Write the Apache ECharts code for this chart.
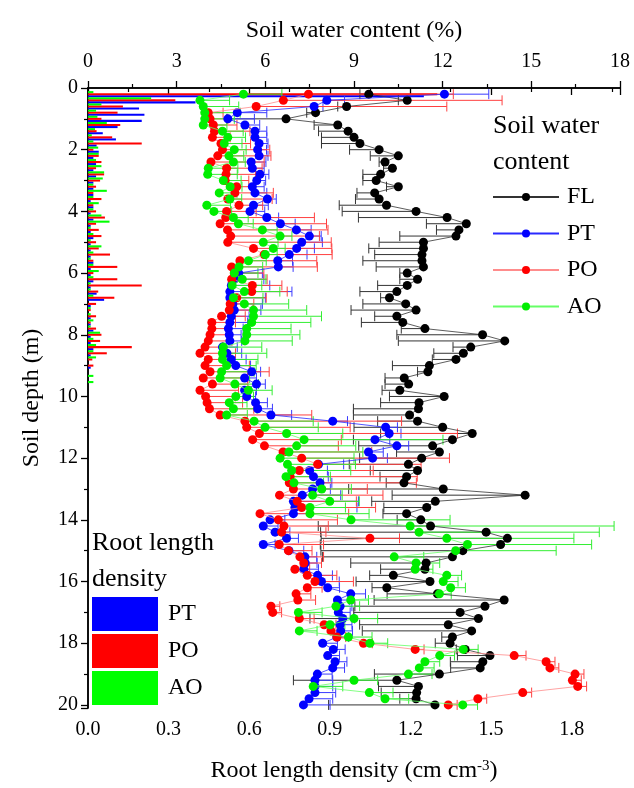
<!DOCTYPE html>
<html>
<head>
<meta charset="utf-8">
<script src="https://cdn.jsdelivr.net/npm/echarts@6/dist/echarts.min.js"></script>
<style>
  html, body { margin: 0; padding: 0; background: #fff; }
  #chart { width: 634px; height: 788px; }
</style>
</head>
<body>
<div id="chart"></div>
<script>
// 土壤深度 (m)
var swcDepth = [0.2,0.4,0.6,0.8,1.0,1.2,1.4,1.6,1.8,2.0,2.2,2.4,2.6,2.8,3.0,3.2,3.4,3.6,3.8,4.0,
  4.2,4.4,4.6,4.8,5.0,5.2,5.4,5.6,5.8,6.0,6.2,6.4,6.6,6.8,7.0,7.2,7.4,7.6,7.8,8.0,
  8.2,8.4,8.6,8.8,9.0,9.2,9.4,9.6,9.8,10.0,10.2,10.4,10.6,10.8,11.0,11.2,11.4,11.6,11.8,12.0,
  12.2,12.4,12.6,12.8,13.0,13.2,13.4,13.6,13.8,14.0,14.2,14.4,14.6,14.8,15.0,15.2,15.4,15.6,15.8,16.0,
  16.2,16.4,16.6,16.8,17.0,17.2,17.4,17.6,17.8,18.0,18.2,18.4,18.6,18.8,19.0,19.2,19.4,19.6,19.8,20.0]

// 土壤含水量 (%)
var swcFL = [9.5,10.8,8.75,7.7,6.7,8.45,8.8,9.0,9.2,9.85,
  10.5,10.05,10.3,9.9,9.75,10.5,9.7,9.85,10.1,11.1,
  12.15,12.8,12.55,12.45,11.35,11.35,11.3,11.3,11.35,10.8,
  11.15,10.8,10.45,10.2,10.75,11.1,10.45,10.65,11.4,13.35,
  14.1,12.95,12.7,12.45,11.55,11.5,10.7,10.85,10.55,12.05,
  11.2,11.18,10.88,11.15,12.0,13.0,12.33,11.66,11.89,11.29,
  10.84,11.15,10.78,10.69,12.02,14.79,11.75,11.46,10.78,11.26,
  11.59,13.47,14.19,13.96,12.68,12.33,11.44,11.4,10.33,11.57,
  10.11,11.82,14.08,13.43,12.59,13.21,12.19,12.98,12.33,12.25,
  12.76,13.6,13.36,13.27,11.89,10.45,11.18,11.12,11.1,11.74]
var errFL = [0.3,0.3,0.3,0.3,2.0,0.8,1.0,1.1,1.3,1.0,
  0.95,0.2,0.3,0.6,0.45,0.4,0.6,0.8,1.6,2.5,
  3.0,1.35,0.76,1.9,1.5,1.85,1.6,2.0,1.6,0.25,
  0.6,1.0,1.25,0.3,1.45,2.2,0.75,1.4,0.8,2.9,
  3.6,0.6,1.0,0.8,1.25,0.35,0.65,0.8,0.6,1.85,
  1.3,2.2,1.9,1.35,3.0,3.1,3.35,2.5,1.45,2.1,
  2.0,1.6,0.9,0.6,3.2,4.5,2.15,1.45,0.8,0.8,
  3.8,5.6,6.3,6.1,4.8,4.4,2.55,1.5,0.8,2.5,
  0.5,1.7,4.4,4.4,3.6,5.7,3.0,3.7,0.36,0.5,
  0.3,1.1,1.1,1.0,2.2,3.5,1.35,1.2,0.55,3.6]

var swcPT = [12.06,8.08,7.65,5.05,4.73,5.31,5.65,5.65,5.79,5.74,
  5.79,5.52,5.56,5.82,5.71,5.56,5.65,6.07,5.6,5.48,
  6.05,6.51,7.05,7.49,7.23,7.06,6.81,6.42,6.44,5.1,
  4.95,4.85,4.8,4.8,4.9,4.95,4.85,4.8,4.75,4.78,
  4.8,4.55,4.7,4.85,5.0,5.54,5.3,5.7,5.3,5.37,
  5.67,5.74,6.19,8.28,10.07,10.19,9.71,10.45,9.49,9.63,
  7.8,7.5,7.63,7.85,7.6,7.25,6.95,7.0,6.95,6.16,
  5.93,6.33,6.72,5.93,6.8,7.34,7.35,7.3,7.77,7.9,
  8.11,8.89,8.44,8.53,8.47,8.62,8.53,8.55,8.42,7.94,
  8.3,8.11,8.36,8.28,7.76,7.68,7.68,7.68,7.48,7.29]
var errPT = [1.5,0.6,0.3,1.0,0.9,0.5,0.4,0.4,0.3,0.3,
  0.3,0.5,0.4,0.3,0.3,0.4,0.4,0.3,0.5,0.5,
  0.4,0.5,0.5,0.4,0.7,0.6,0.6,0.5,0.5,0.8,
  1.0,1.3,2.1,1.2,1.0,0.9,0.6,0.6,0.5,0.4,
  0.4,0.5,0.5,0.5,0.5,0.3,0.4,0.3,0.4,0.3,
  0.4,0.5,0.7,0.5,0.4,0.4,0.5,0.4,0.5,0.5,
  0.85,0.6,0.5,0.4,0.6,1.3,2.2,2.1,0.6,0.5,
  0.5,0.5,0.4,0.4,0.5,0.4,0.4,0.5,0.5,0.6,
  0.4,0.5,0.4,0.4,0.4,0.4,0.4,0.4,0.4,0.5,
  0.4,0.4,0.4,0.4,0.5,0.6,0.6,0.7,0.8,0.9]

var swcPO = [7.46,6.61,5.69,4.07,4.13,4.24,4.28,4.21,4.5,4.55,
  4.39,4.16,4.69,4.67,4.64,5.03,4.97,4.73,5.11,4.69,
  4.66,4.47,4.72,4.83,4.73,5.6,5.96,5.14,4.86,4.95,
  4.86,5.56,5.54,5.03,4.81,4.78,4.52,4.19,4.19,4.13,
  4.07,3.96,3.79,4.07,3.96,4.13,3.9,4.21,3.79,3.98,
  4.03,4.11,4.47,5.31,5.37,5.8,5.57,5.97,6.6,7.23,
  7.77,7.15,6.84,6.81,6.95,6.48,7.08,7.23,5.82,6.44,
  6.63,6.55,9.54,6.47,6.78,7.17,7.3,7.0,7.42,7.68,
  7.42,7.04,7.1,6.19,6.25,7.15,7.99,8.22,8.42,9.32,
  11.07,14.42,15.5,15.63,16.48,16.39,16.57,14.71,13.19,12.19]
var errPO = [4.9,7.4,6.45,0.5,0.6,0.8,1.2,0.6,1.0,1.6,
  1.8,1.8,1.2,1.0,0.8,0.6,1.3,1.5,0.8,1.0,
  3.0,3.6,3.4,3.0,3.5,2.65,2.3,2.6,2.9,1.0,
  1.2,1.0,1.2,1.0,0.8,0.8,0.8,0.8,0.6,0.7,
  0.8,0.6,1.2,0.8,1.5,2.0,1.5,1.2,1.3,1.0,
  1.2,1.5,3.1,5.3,3.5,6.7,3.0,2.5,3.0,5.0,
  3.5,2.5,4.3,4.3,2.5,3.5,2.0,2.5,3.0,2.0,
  1.5,1.5,1.0,1.5,0.8,0.8,0.6,0.5,1.0,1.3,
  0.5,0.5,0.6,0.3,0.3,0.5,0.4,0.3,0.3,0.3,
  0.3,0.4,0.3,0.3,0.3,0.3,0.3,0.3,0.3,0.3]

var swcAO = [5.26,3.79,3.9,3.95,3.95,3.9,4.55,4.73,4.61,4.95,
  4.77,4.92,4.07,4.05,4.58,4.81,4.44,4.8,4.02,4.26,
  4.92,5.09,5.9,6.5,5.93,6.27,6.0,5.43,5.11,4.95,
  5.22,4.88,5.29,4.92,5.29,5.6,5.6,5.54,5.37,5.37,
  5.31,4.58,4.55,4.55,4.69,4.52,4.47,4.97,5.43,5.0,
  4.78,4.92,4.69,5.62,5.99,6.72,7.31,7.06,6.8,6.5,
  6.75,6.89,6.7,6.97,7.91,7.6,8.18,7.51,7.51,8.9,
  10.9,11.2,12.14,12.84,12.44,10.36,11.1,11.07,12.14,12.02,
  12.27,11.89,8.89,8.39,7.12,9.0,8.19,7.15,8.81,9.54,
  12.7,11.9,11.4,11.21,10.84,9.0,7.62,9.52,10.05,12.68]
var errAO = [1.3,1.0,1.2,1.2,1.0,0.8,0.7,0.6,0.6,0.4,
  0.5,0.4,1.0,1.0,0.6,0.4,0.6,0.4,0.8,0.6,
  0.5,0.5,0.5,0.4,0.5,0.4,0.4,0.6,0.8,0.8,
  0.8,1.0,1.2,1.0,1.5,1.8,2.3,2.0,1.5,1.8,
  1.6,1.3,1.5,1.2,1.0,1.1,1.0,0.8,0.8,0.6,
  0.6,0.8,0.7,2.0,1.8,1.9,4.7,2.0,2.5,2.5,
  2.3,2.0,1.5,1.0,1.0,1.0,1.0,1.2,2.0,3.35,
  6.9,6.1,4.3,4.2,3.4,1.0,0.8,0.6,0.5,0.5,
  0.5,0.4,0.6,0.8,0.8,0.8,0.5,0.6,0.8,0.6,
  0.5,0.5,0.5,0.5,0.8,0.8,1.0,0.8,0.8,0.5]

// 根长密度 (cm cm-3)，每 0.2 m 一层（AO 在上、PO 居中、PT 在下）
var rldDepth = [0.2,0.4,0.6,0.8,1.0,1.2,1.4,1.6,1.8,2.0,
  2.2,2.4,2.6,2.8,3.0,3.2,3.4,3.6,3.8,4.0,
  4.2,4.4,4.6,4.8,5.0,5.2,5.4,5.6,5.8,6.0,
  6.2,6.4,6.6,6.8,7.0,7.2,7.4,7.6,7.8,8.0,
  8.2,8.4,8.6,8.8,9.0,9.2,9.4,9.6,9.8,10.0]
var rldPT = [1.25,0.40,0.19,0.21,0.20,0.11,0.055,0.104,0.032,0.04,
  0.02,0.03,0.02,0.03,0.02,0.02,0.02,0.01,0.02,0.01,
  0.02,0.01,0.01,0.02,0.01,0.01,0.01,0.02,0.01,0.01,
  0.02,0.01,0.032,0.06,0.01,0.00,0.01,0.01,0.02,0.01,
  0.01,0.02,0.01,0.00,0.01,0.00,0.00,0.00,0.00,0.00]
var rldPO = [1.30,0.325,0.13,0.11,0.05,0.12,0.032,0.09,0.20,0.02,
  0.04,0.05,0.03,0.06,0.045,0.03,0.02,0.05,0.02,0.03,
  0.063,0.03,0.04,0.05,0.03,0.04,0.082,0.02,0.109,0.02,
  0.109,0.20,0.038,0.098,0.03,0.01,0.03,0.01,0.03,0.05,
  0.045,0.163,0.07,0.016,0.02,0.00,0.00,0.00,0.00,0.00]
var rldAO = [0.02,0.235,0.05,0.03,0.035,0.07,0.026,0.014,0.02,0.038,
  0.04,0.03,0.05,0.06,0.055,0.02,0.07,0.02,0.04,0.02,
  0.05,0.08,0.01,0.02,0.01,0.05,0.02,0.01,0.02,0.04,
  0.02,0.01,0.01,0.02,0.00,0.01,0.01,0.02,0.01,0.045,
  0.02,0.03,0.02,0.03,0.00,0.00,0.02,0.02,0.00,0.00]

var FONT = 'Liberation Serif'

function pairs (xs, ys, errs) {
  return xs.map(function (v, i) { return errs ? [v, ys[i], errs[i]] : [v, ys[i]] })
}

// 水平误差棒：dir = -1 向左，1 向右
function errorBarItem (dir, color) {
  return function (params, api) {
    var v = api.value(0)
    var d = api.value(1)
    var e = api.value(2)
    var p0 = api.coord([v, d])
    var p1 = api.coord([v + dir * e, d])
    var h = 5
    return {
      type: 'group',
      children: [
        { type: 'line', shape: { x1: p0[0], y1: p0[1], x2: p1[0], y2: p1[1] }, style: { stroke: color, lineWidth: 1 } },
        { type: 'line', shape: { x1: p1[0], y1: p1[1] - h, x2: p1[0], y2: p1[1] + h }, style: { stroke: color, lineWidth: 1 } }
      ]
    }
  }
}

// 根长密度水平条：每层分三条，slot 0/1/2 = 上/中/下
function rldBarItem (slot, color) {
  return function (params, api) {
    var r = api.value(0)
    var d = api.value(1)
    var band = api.size([0, 0.2])[1]
    var h = band / 3
    var top = api.coord([0, d])[1] - band / 2 + slot * h
    var x0 = api.coord([0, d])[0]
    var x1 = api.coord([r, d])[0]
    return { type: 'rect', shape: { x: x0, y: top, width: x1 - x0, height: h }, style: { fill: color } }
  }
}

function lineSeries (name, data, color, lineColor, z) {
  return {
    name: name,
    type: 'line',
    xAxisIndex: 0,
    yAxisIndex: 0,
    data: data,
    symbol: 'circle',
    symbolSize: 9,
    itemStyle: { color: color },
    lineStyle: { color: lineColor, width: 0.8 },
    z: z,
    animation: false
  }
}

function errSeries (name, data, dir, color, z) {
  return {
    name: name,
    type: 'custom',
    xAxisIndex: 0,
    yAxisIndex: 0,
    data: data,
    renderItem: errorBarItem(dir, color),
    encode: { x: 0, y: 1 },
    z: z,
    silent: true,
    animation: false
  }
}

function rldSeries (name, data, slot, color) {
  return {
    name: name,
    type: 'custom',
    xAxisIndex: 1,
    yAxisIndex: 0,
    data: data,
    renderItem: rldBarItem(slot, color),
    encode: { x: 0, y: 1 },
    itemStyle: { color: color },
    z: 1,
    animation: false
  }
}

var axisLineStyle = { color: '#000', width: 1.5 }
var labelStyle = { fontFamily: FONT, fontSize: 20, color: '#000' }
var nameStyle = { fontFamily: FONT, fontSize: 24, color: '#000' }

var option = {
  animation: false,
  backgroundColor: '#fff',
  grid: { left: 88, top: 88, right: 14, bottom: 80 },
  xAxis: [
    {
      type: 'value',
      position: 'top',
      min: 0,
      max: 18,
      interval: 3,
      name: 'Soil water content (%)',
      nameLocation: 'middle',
      nameGap: 45,
      nameTextStyle: nameStyle,
      axisLine: { show: true, lineStyle: axisLineStyle },
      axisTick: { show: true, length: 7, lineStyle: { width: 1.3, color: '#000' } },
      minorTick: { show: true, splitNumber: 2, length: 4, lineStyle: { width: 1.2, color: '#000' } },
      axisLabel: Object.assign({ margin: 16 }, labelStyle),
      splitLine: { show: false }
    },
    {
      type: 'value',
      position: 'bottom',
      min: 0,
      max: 1.98,
      interval: 0.3,
      name: 'Root length density (cm cm{sup|-3})',
      nameLocation: 'middle',
      nameGap: 51,
      nameTextStyle: Object.assign({
        rich: { sup: { fontFamily: FONT, fontSize: 15, color: '#000', verticalAlign: 'top', lineHeight: 14 } }
      }, nameStyle),
      axisLine: { show: true, lineStyle: axisLineStyle },
      axisTick: { show: true, length: 7, lineStyle: { width: 1.3, color: '#000' } },
      minorTick: { show: true, splitNumber: 2, length: 4, lineStyle: { width: 1.2, color: '#000' } },
      axisLabel: Object.assign({ margin: 12, showMaxLabel: false, formatter: function (v) { return v.toFixed(1) } }, labelStyle),
      splitLine: { show: false }
    }
  ],
  yAxis: [
    {
      type: 'value',
      inverse: true,
      position: 'left',
      min: 0,
      max: 20.1,
      interval: 2,
      name: 'Soil depth (m)',
      nameLocation: 'middle',
      nameGap: 44,
      nameTextStyle: nameStyle,
      axisLine: { show: true, lineStyle: axisLineStyle },
      axisTick: { show: true, length: 7, lineStyle: { width: 1.3, color: '#000' } },
      minorTick: { show: true, splitNumber: 2, length: 4, lineStyle: { width: 1.2, color: '#000' } },
      axisLabel: Object.assign({ margin: 10, showMaxLabel: false }, labelStyle),
      splitLine: { show: false }
    },
    {
      type: 'value',
      inverse: true,
      position: 'right',
      min: 0,
      max: 20.1,
      axisLine: { show: true, lineStyle: axisLineStyle },
      axisTick: { show: false },
      axisLabel: { show: false },
      splitLine: { show: false }
    }
  ],
  legend: [
    {
      data: ['FL', 'PT', 'PO', 'AO'],
      orient: 'vertical',
      left: 487,
      top: 180,
      itemWidth: 66,
      itemHeight: 10,
      itemGap: 12.5,
      selectedMode: false,
      textStyle: { fontFamily: FONT, fontSize: 24, color: '#000', padding: [0, 0, 0, 3] }
    },
    {
      data: ['RLD PT', 'RLD PO', 'RLD AO'],
      formatter: function (n) { return n.slice(4) },
      orient: 'vertical',
      left: 87,
      top: 592,
      icon: 'rect',
      itemWidth: 66,
      itemHeight: 34,
      itemGap: 3,
      selectedMode: false,
      textStyle: { fontFamily: FONT, fontSize: 24, color: '#000', padding: [0, 0, 0, 5] }
    }
  ],
  graphic: [
    { type: 'text', left: 493, top: 113, style: { text: 'Soil water', font: '26px ' + FONT, fill: '#000' } },
    { type: 'text', left: 493, top: 149, style: { text: 'content', font: '26px ' + FONT, fill: '#000' } },
    { type: 'text', left: 92, top: 530, style: { text: 'Root length', font: '26px ' + FONT, fill: '#000' } },
    { type: 'text', left: 92, top: 566, style: { text: 'density', font: '26px ' + FONT, fill: '#000' } }
  ],
  series: [
    rldSeries('RLD PT', pairs(rldPT, rldDepth), 2, '#0000ff'),
    rldSeries('RLD PO', pairs(rldPO, rldDepth), 1, '#ff0000'),
    rldSeries('RLD AO', pairs(rldAO, rldDepth), 0, '#00ff00'),
    errSeries('FL err', pairs(swcFL, swcDepth, errFL), -1, '#333333', 2),
    errSeries('PT err', pairs(swcPT, swcDepth, errPT), 1, '#3b3bff', 2),
    errSeries('PO err', pairs(swcPO, swcDepth, errPO), 1, '#ff4040', 2),
    errSeries('AO err', pairs(swcAO, swcDepth, errAO), 1, '#33ee33', 2),
    lineSeries('FL', pairs(swcFL, swcDepth), '#000000', '#333333', 3),
    lineSeries('PT', pairs(swcPT, swcDepth), '#0000ff', '#2a2aff', 4),
    lineSeries('PO', pairs(swcPO, swcDepth), '#ff0000', '#ff8c8c', 5),
    lineSeries('AO', pairs(swcAO, swcDepth), '#00ee00', '#66ff66', 6)
  ]
}

var chart = echarts.init(document.getElementById('chart'), null, { renderer: 'canvas' })
chart.setOption(option)
</script>
</body>
</html>
